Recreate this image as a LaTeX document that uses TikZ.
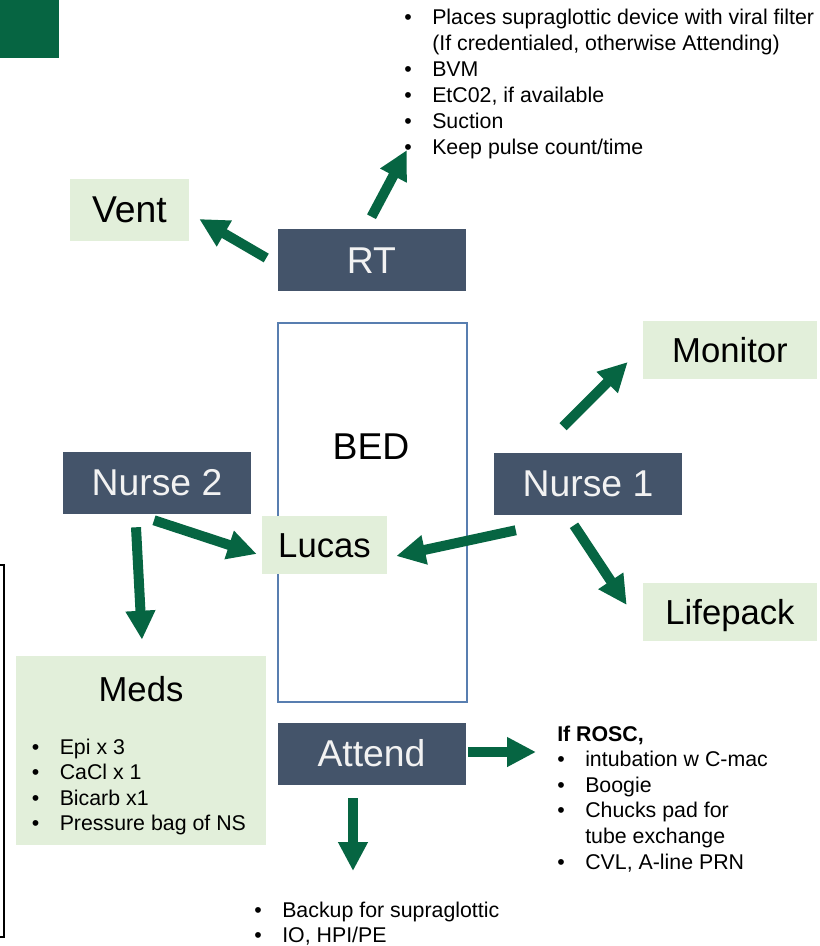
\documentclass[tikz,border=0pt]{standalone}
\usepackage{fontspec}
\setmainfont{Liberation Sans}
\usepackage{tikz}
\usetikzlibrary{calc,positioning,arrows.meta}
\definecolor{slate}{RGB}{68,84,106}
\definecolor{ppgreen}{RGB}{6,101,66}
\definecolor{palegreen}{RGB}{226,239,218}
\definecolor{bedblue}{RGB}{88,126,176}
\newcommand{\bul}{\makebox[21pt][l]{\textbullet}}
\newcommand{\nobul}{\hspace*{21pt}}

\begin{document}
\begin{tikzpicture}[x=0.75pt,y=-0.75pt,
    dbox/.style={fill=slate, text=white!95!black, inner sep=0pt,
      minimum width=\bw, minimum height=\bh,
      font=\fontsize{28}{33}\selectfont, text height=20pt, text depth=0pt},
    gbox/.style={fill=palegreen, inner sep=0pt,
      font=\fontsize{26}{31}\selectfont, text height=18.6pt, text depth=0pt},
    arr/.style={draw=ppgreen, line width=7.5pt, -{Triangle[width=21pt,length=21.75pt]}},
    bullets/.style={inner sep=0pt, anchor=base west, font=\fontsize{16}{19.2}\selectfont}]
    \pgfmathsetmacro{\bw}{188*0.75}
    \pgfmathsetmacro{\bh}{62*0.75}

    \useasboundingbox (0,0) rectangle (820,946);
    % corner tab and the edge of a box off the page
    \fill[ppgreen] (0,0) rectangle (59,58);
    \draw[line width=1.1pt] (0,565) -- (4,565) -- (4,937) -- (0,937);

    % bed
    \node[draw=bedblue, line width=1.5pt, inner sep=0pt,
      minimum width=189*0.75, minimum height=379*0.75] (bed) at (372.5,512.5) {};
    \node[font=\fontsize{28}{33}\selectfont, inner sep=0pt] (bedlabel) at (371,447) {BED};

    % people
    \node[dbox] (rt) at (371.5,260) {RT};
    \node[dbox] (nurseA) at (588,483.5) {Nurse 1};
    \node[dbox] (nurseB) at (157,482.5) {Nurse 2};
    \node[dbox] (attend) at (371.5,753.5) {Attend};

    % kit
    \node[gbox, minimum width=119*0.75, minimum height=62*0.75,
      font=\fontsize{28}{33}\selectfont, text height=20pt] (vent) at (129.5,209.5) {Vent};
    \node[gbox, minimum width=174*0.75, minimum height=58*0.75] (monitor) at (730,350) {Monitor};
    \node[gbox, minimum width=174*0.75, minimum height=58*0.75] (lifepack) at (730,612) {Lifepack};
    \node[gbox, minimum width=125*0.75, minimum height=58*0.75] (lucas) at (324.5,545) {Lucas};
    \node[gbox, minimum width=250*0.75, minimum height=189*0.75] (meds) at (141,750.5) {};
    \node[font=\fontsize{26}{31}\selectfont, anchor=base, inner sep=0pt] (medstitle) at (141,701) {Meds};

    % task lists
    \node[bullets, font=\fontsize{16}{19.5}\selectfont] (rtlist) at (404,24) {\begin{tabular}[t]{@{}l@{}}
      \bul Places supraglottic device with viral filter\\
      \nobul (If credentialed, otherwise Attending)\\
      \bul BVM\\
      \bul EtC02, if available\\
      \bul Suction\\
      \bul Keep pulse count/time
    \end{tabular}};
    \node[bullets] (medslist) at (31.5,754) {\begin{tabular}[t]{@{}l@{}}
      \bul Epi x 3\\
      \bul CaCl x 1\\
      \bul Bicarb x1\\
      \bul Pressure bag of NS
    \end{tabular}};
    \node[bullets] (rosclist) at (557,741) {\begin{tabular}[t]{@{}l@{}}
      \textbf{If ROSC,}\\
      \bul intubation w C-mac\\
      \bul Boogie\\
      \bul Chucks pad for\\
      \nobul tube exchange\\
      \bul CVL, A-line PRN
    \end{tabular}};
    \node[bullets] (attlist) at (254,917) {\begin{tabular}[t]{@{}l@{}}
      \bul Backup for supraglottic\\
      \bul IO, HPI/PE
    \end{tabular}};

    \coordinate (rttip) at (407,150);
    \coordinate (rosctip) at (536,752);
    \coordinate (atttip) at (353,871);

    % arrows
    \draw[arr] ($(rt.west)+(-11,-2)$) -- ($(vent.east)+(10,9.5)$);
    \draw[arr] ($(rt.north)+(0,-12)$) -- (rttip);
    \draw[arr] ($(nurseA.north)+(-25,-25.5)$) -- ($(monitor.west)+(-15,12)$);
    \draw[arr] ($(nurseA.south)+(-14,10.5)$) -- ($(lifepack.west)+(-16,-7)$);
    \draw[arr] ($(nurseA.south west)+(22,15.5)$) -- ($(lucas.east)+(9,11)$);
    \draw[arr] ($(nurseB.south)+(-3,6.5)$) -- ($(lucas.west)+(-5,9)$);
    \draw[arr] ($(nurseB.south)+(-21,13.5)$) -- ($(meds.north)+(1,-16)$);
    \draw[arr] ($(attend.east)+(2.5,-1.5)$) -- (rosctip);
    \draw[arr] ($(attend.south)+(-18.5,13.5)$) -- (atttip);
\end{tikzpicture}
\end{document}
